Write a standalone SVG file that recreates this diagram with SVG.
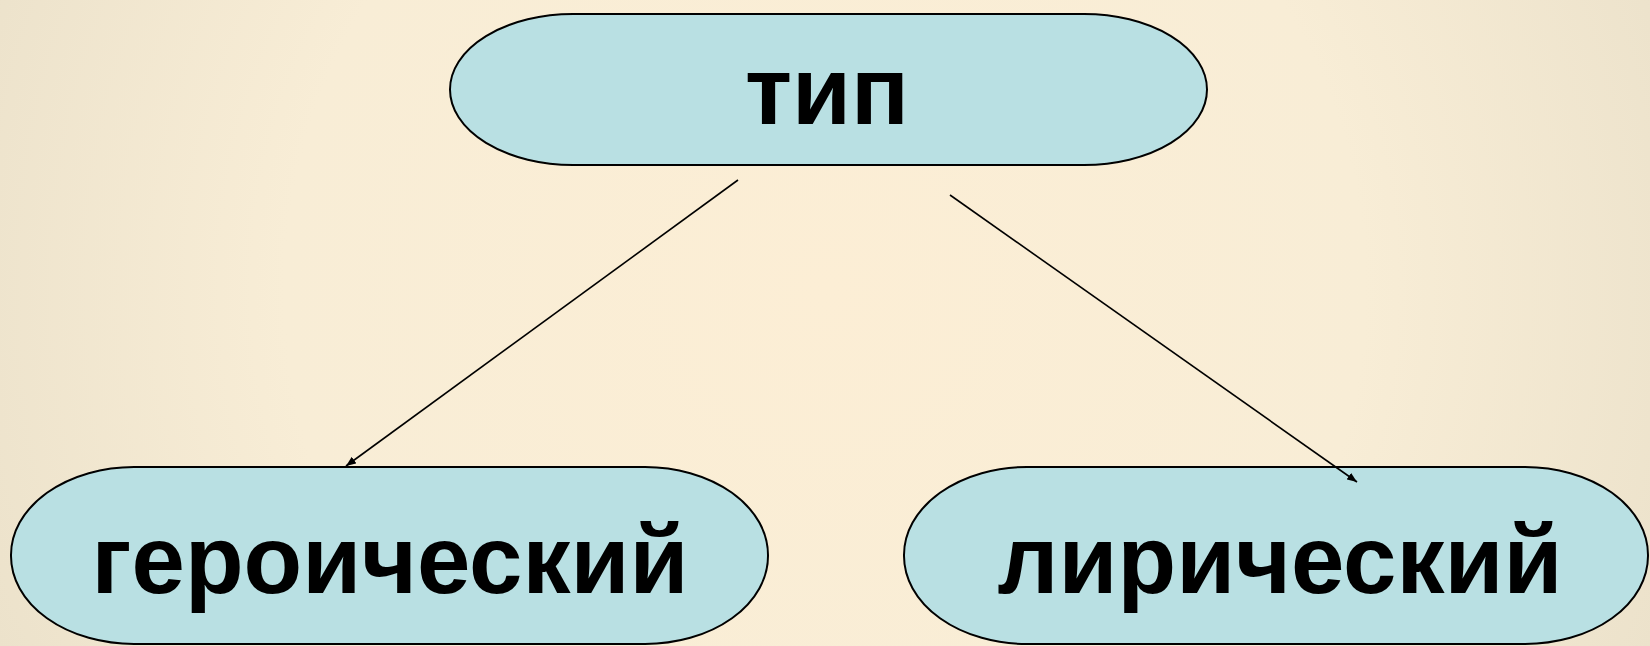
<svg xmlns="http://www.w3.org/2000/svg" width="1650" height="646" viewBox="0 0 1650 646">
<defs>
<radialGradient id="bg" cx="825" cy="290" r="900" gradientUnits="userSpaceOnUse">
<stop offset="0" stop-color="#FCEED5"/>
<stop offset="0.6" stop-color="#F8EDD6"/>
<stop offset="1" stop-color="#ECE2CB"/>
</radialGradient>
<marker id="arr" viewBox="0 0 10 8" refX="10" refY="4" markerWidth="10" markerHeight="8" markerUnits="userSpaceOnUse" orient="auto">
<path d="M0,0 L10,4 L0,8 z" fill="#000"/>
</marker>
<style>
.node{fill:#B9E0E3;stroke:#000;stroke-width:2}
.lbl{font-family:"Liberation Sans",Arial,sans-serif;font-weight:bold;font-size:96px;fill:#000;text-anchor:middle}
.conn{stroke:#000;stroke-width:1.6;fill:none}
</style>
</defs>
<rect x="0" y="0" width="1650" height="646" fill="url(#bg)"/>
<g id="node-tip">
<rect class="node" x="450" y="14" width="757" height="151" rx="123" ry="75.5"/>
<text class="lbl" x="827" y="124">тип</text>
</g>
<g id="node-geroicheskiy">
<rect class="node" x="11" y="467" width="757" height="177" rx="123" ry="88"/>
<text class="lbl" x="390" y="593">героический</text>
</g>
<g id="node-liricheskiy">
<rect class="node" x="904" y="467" width="744" height="177" rx="123" ry="88"/>
<text class="lbl" x="1280" y="593">лирический</text>
</g>
<g id="connectors">
<line class="conn" x1="738" y1="180" x2="346" y2="466" marker-end="url(#arr)"/>
<line class="conn" x1="950" y1="195" x2="1357" y2="482" marker-end="url(#arr)"/>
</g>
</svg>
